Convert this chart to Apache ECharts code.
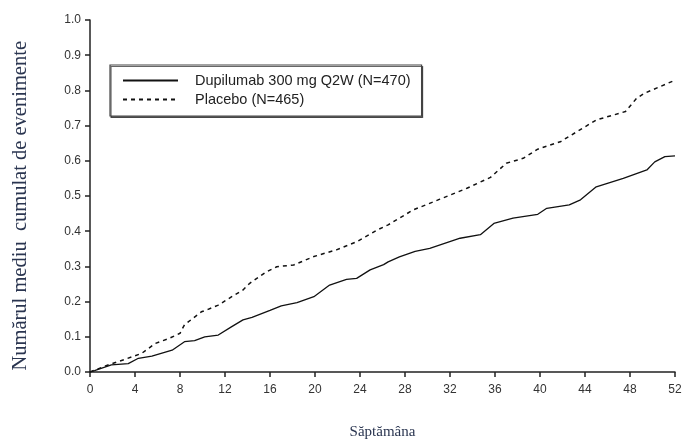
<!DOCTYPE html>
<html>
<head>
<meta charset="utf-8">
<script src="https://cdn.jsdelivr.net/npm/echarts@6/dist/echarts.min.js"></script>
<style>html,body{margin:0;padding:0;background:#fff;}#c{width:687px;height:445px;}</style>
</head>
<body>
<div id="c"></div>
<script>
var seriesNames = ['Dupilumab 300 mg Q2W (N=470)', 'Placebo (N=465)'];
var xTitle = 'Săptămâna';
var yTitle = 'Numărul mediu  cumulat de evenimente';
var dupilumab = [[0,0],[0.4,0.004],[1.9,0.02],[3.4,0.024],[4.3,0.039],[5.5,0.045],[7.3,0.062],[8.4,0.086],[9.3,0.089],[10.2,0.1],[11.4,0.105],[12.6,0.129],[13.6,0.148],[14.4,0.155],[16,0.175],[17,0.188],[18.4,0.197],[19.9,0.214],[21.3,0.247],[22.8,0.263],[23.7,0.266],[24.9,0.29],[26.1,0.305],[26.5,0.313],[27.5,0.327],[28.9,0.343],[30.2,0.351],[32.9,0.38],[34.7,0.39],[35.9,0.422],[37.6,0.437],[39.8,0.448],[40.6,0.465],[42.6,0.475],[43.6,0.489],[45.0,0.526],[47.4,0.55],[49.5,0.574],[50.2,0.597],[51.1,0.612],[52,0.614]];
var placebo = [[0,0],[0.4,0.005],[1.6,0.02],[3.1,0.036],[4.6,0.053],[5.8,0.081],[7.0,0.095],[8.0,0.11],[8.4,0.134],[9.9,0.171],[10.5,0.178],[11.4,0.19],[12.6,0.214],[13.6,0.233],[14.2,0.252],[15.7,0.285],[16.6,0.299],[18.1,0.304],[19.9,0.328],[21.9,0.347],[23.7,0.37],[25.5,0.403],[26.5,0.418],[28.7,0.46],[31.1,0.491],[33.5,0.522],[35.6,0.553],[37.0,0.593],[38.5,0.607],[39.8,0.633],[41.8,0.654],[43.3,0.683],[45.0,0.716],[47.6,0.74],[48.6,0.778],[49.3,0.792],[52,0.829]];

var chart = echarts.init(document.getElementById('c'), null, {renderer:'canvas'});
var axisFont = {fontFamily:'Liberation Sans, Arial, sans-serif', fontSize:12, color:'#333'};
chart.setOption({
  animation:false,
  backgroundColor:'#fff',
  grid:{left:90, right:12, top:20, bottom:73, containLabel:false, outerBoundsMode:'none'},
  legend:{
    orient:'vertical', left:110, top:65,
    padding:[8,11,9,12], itemGap:4, itemWidth:55, itemHeight:14,
    borderColor:'#444', borderWidth:1.2,
    backgroundColor:'#fff',
    shadowColor:'rgba(0,0,0,0.6)', shadowBlur:0, shadowOffsetX:1, shadowOffsetY:1.5,
    itemStyle:{color:'transparent', borderWidth:0, opacity:0},
    textStyle:{fontFamily:'Liberation Sans, Arial, sans-serif', fontSize:14.5, color:'#222', padding:[0,0,0,12]},
    data:[seriesNames[0], seriesNames[1]]
  },
  graphic:[{
    type:'text', left:10, top:41, rotation:Math.PI/2,
    style:{text:yTitle, font:'20.5px "Liberation Serif", "Times New Roman", serif', fill:'#2a3550'}
  }],
  xAxis:{
    type:'value', min:0, max:52, interval:4,
    name:xTitle, nameLocation:'middle', nameGap:53,
    nameTextStyle:{fontFamily:'Liberation Serif, Times New Roman, serif', fontSize:15, color:'#2a3550'},
    axisLine:{lineStyle:{color:'#222', width:1.5}},
    axisTick:{length:5, lineStyle:{color:'#222', width:1.5}},
    axisLabel:Object.assign({margin:12}, axisFont),
    splitLine:{show:false}
  },
  yAxis:{
    type:'value', min:0, max:1, interval:0.1,
    axisLine:{show:true, lineStyle:{color:'#222', width:1.5}},
    axisTick:{show:true, length:5, lineStyle:{color:'#222', width:1.5}},
    axisLabel:Object.assign({margin:9, formatter:function(v){return v.toFixed(1);}}, axisFont),
    splitLine:{show:false}
  },
  series:[
    {name:seriesNames[0], type:'line', data:dupilumab, symbol:'none', lineStyle:{color:'#111', width:1.3, type:'solid'}, itemStyle:{color:'#111'}},
    {name:seriesNames[1], type:'line', data:placebo, symbol:'none', lineStyle:{color:'#111', width:1.5, type:[4,4]}, itemStyle:{color:'#111'}}
  ]
});
</script>
</body>
</html>
